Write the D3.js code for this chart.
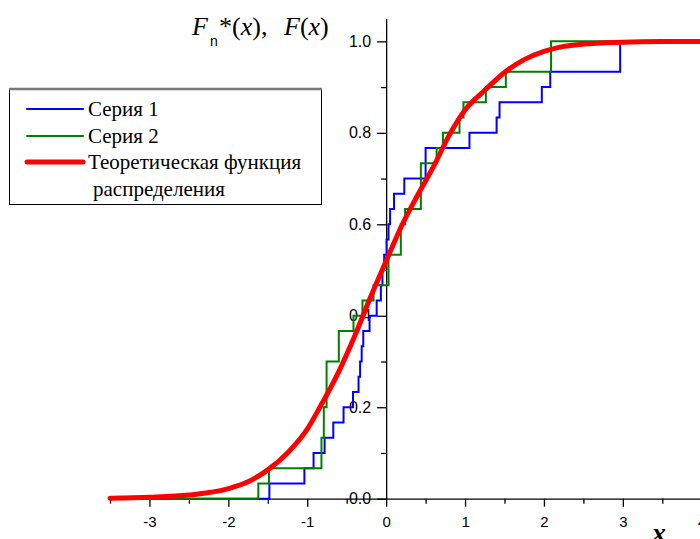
<!DOCTYPE html>
<html>
<head>
<meta charset="utf-8">
<script src="https://cdnjs.cloudflare.com/ajax/libs/d3/7.8.5/d3.min.js"></script>
<style>
  body { margin: 0; background: #fff; }
  svg { display: block; }
</style>
</head>
<body>
<svg width="700" height="539"></svg>
<script>
// samples read from the steps (n = 30)
const series1 = [-1.48, -1.036, -0.92, -0.78, -0.67, -0.54, -0.42, -0.35, -0.33, -0.31,
  -0.29, -0.21, -0.12, -0.067, -0.047, -0.025, 0.005, 0.03, 0.05, 0.10,
  0.23, 0.50, 0.50, 1.056, 1.40, 1.437, 1.973, 2.08, 2.966, 2.966]
const series2 = [-1.62, -1.485, -0.82, -0.82, -0.79, -0.79, -0.755, -0.755, -0.755, -0.60,
  -0.60, -0.414, -0.30, -0.16, 0.03, 0.03, 0.186, 0.186, 0.24, 0.44,
  0.44, 0.44, 0.64, 0.72, 0.93, 0.98, 1.264, 1.517, 2.09, 2.09]
// theoretical curve
const theoX = [-3.5, -3.0, -2.5, -2.0, -1.75, -1.5, -1.25, -1.0, -0.84, -0.6, -0.4, -0.2, 0.0,
  0.2, 0.4, 0.6, 0.8, 1.0, 1.25, 1.5, 1.75, 2.0, 2.25, 2.5, 3.0, 3.5, 4.5]
const theoF = [0.001, 0.003, 0.008, 0.022, 0.037, 0.063, 0.100, 0.152, 0.200, 0.278, 0.355, 0.440, 0.520,
  0.598, 0.664, 0.726, 0.795, 0.850, 0.893, 0.932, 0.960, 0.978, 0.989, 0.994, 0.998, 0.9995, 1.0]
const xMajor = [-3, -2, -1, 0, 1, 2, 3, 4]
const xMinor = [-3.5, -2.5, -1.5, -0.5, 0.5, 1.5, 2.5, 3.5]
const yMajor = [0, 0.2, 0.4, 0.6, 0.8, 1.0]
const yMinor = [0.1, 0.3, 0.5, 0.7, 0.9]
const legendNames = ['Серия 1', 'Серия 2', 'Теоретическая функция']

const svg = d3.select('svg')
const x = d3.scaleLinear().domain([-3.5, 4.5]).range([110, 741.2])
const y = d3.scaleLinear().domain([0, 1.05]).range([498.7, 18.5])
const x0 = x(0)
const y0 = y(0)

svg.append('rect').attr('width', 700).attr('height', 539).attr('fill', '#fff')

// axes
const xAxis = svg.append('g').attr('transform', `translate(0,${y0})`)
xAxis.call(d3.axisBottom(x).tickValues(xMajor).tickSize(8).tickSizeOuter(0).tickPadding(10)
  .tickFormat(d => String(d)))
xAxis.call(g => g.append('g').call(d3.axisBottom(x).tickValues(xMinor).tickSize(5).tickSizeOuter(0).tickFormat(''))
  .select('.domain').remove())

const yAxis = svg.append('g').attr('transform', `translate(${x0},0)`)
yAxis.call(d3.axisLeft(y).tickValues(yMajor).tickSize(9).tickSizeOuter(0).tickPadding(6)
  .tickFormat(d => d.toFixed(1)))
yAxis.call(g => g.append('g').call(d3.axisLeft(y).tickValues(yMinor).tickSize(5).tickSizeOuter(0).tickFormat(''))
  .select('.domain').remove())

svg.selectAll('.domain, .tick line').attr('stroke', '#000').attr('stroke-width', 1.3)
xAxis.selectAll('text').attr('font-family', 'Liberation Sans, Arial, sans-serif').attr('font-size', 15).attr('fill', '#000')
yAxis.selectAll('text').attr('font-family', 'Liberation Sans, Arial, sans-serif').attr('font-size', 16).attr('fill', '#000')

// empirical distribution functions
function ecdf(sample) {
  const s = sample.slice().sort(d3.ascending)
  const pts = [[x.domain()[0], 0]]
  s.forEach((v, i) => pts.push([v, (i + 1) / s.length]))
  pts.push([x.domain()[1], 1])
  return pts
}
const stepLine = d3.line().x(d => x(d[0])).y(d => y(d[1])).curve(d3.curveStepAfter)

svg.append('path').attr('d', stepLine(ecdf(series1)))
  .attr('fill', 'none').attr('stroke', '#0000ff').attr('stroke-width', 2)
svg.append('path').attr('d', stepLine(ecdf(series2)))
  .attr('fill', 'none').attr('stroke', '#008000').attr('stroke-width', 2)

const theoLine = d3.line().x(d => x(d[0])).y(d => y(d[1])).curve(d3.curveMonotoneX)
svg.append('path').attr('d', theoLine(theoX.map((v, i) => [v, theoF[i]])))
  .attr('fill', 'none').attr('stroke', '#ff0000').attr('stroke-width', 5)
  .attr('stroke-linecap', 'round')

// axis titles
const yTitle = svg.append('g').attr('font-family', 'Liberation Serif, Times New Roman, serif')
  .attr('font-size', 26).attr('fill', '#000')
yTitle.append('text').attr('x', 192).attr('y', 35).attr('font-style', 'italic').text('F')
yTitle.append('text').attr('x', 210).attr('y', 46).attr('font-family', 'Liberation Sans, Arial, sans-serif')
  .attr('font-size', 14).text('n')
const t1 = yTitle.append('text').attr('x', 219).attr('y', 35)
t1.append('tspan').text('*(')
t1.append('tspan').attr('font-style', 'italic').text('x')
t1.append('tspan').text('),')
const t2 = yTitle.append('text').attr('x', 284).attr('y', 35)
t2.append('tspan').attr('font-style', 'italic').text('F')
t2.append('tspan').text('(')
t2.append('tspan').attr('font-style', 'italic').text('x')
t2.append('tspan').text(')')

svg.append('text').attr('x', 652).attr('y', 542)
  .attr('font-family', 'Liberation Serif, Times New Roman, serif').attr('font-size', 28)
  .attr('font-style', 'italic').attr('font-weight', 'bold').text('x')

// legend
const legend = svg.append('g')
legend.append('rect').attr('x', 9.5).attr('y', 89.5).attr('width', 312).attr('height', 115)
  .attr('fill', '#fff').attr('stroke', '#000').attr('stroke-width', 1)
legend.append('line').attr('x1', 9).attr('x2', 322).attr('y1', 89).attr('y2', 89)
  .attr('stroke', '#777').attr('stroke-width', 2.5)
const legColors = ['#0000ff', '#008000', '#ff0000']
const legWidths = [2, 2, 5]
const legY = [109, 136, 162]
legendNames.forEach((name, i) => {
  legend.append('line').attr('x1', 27).attr('x2', 83).attr('y1', legY[i]).attr('y2', legY[i])
    .attr('stroke', legColors[i]).attr('stroke-width', legWidths[i]).attr('stroke-linecap', 'round')
  legend.append('text').attr('x', 88).attr('y', legY[i] + 7)
    .attr('font-family', 'Liberation Serif, Times New Roman, serif').attr('font-size', 21)
    .text(name)
})
legend.append('text').attr('x', 93).attr('y', 196)
  .attr('font-family', 'Liberation Serif, Times New Roman, serif').attr('font-size', 21)
  .text('распределения')
</script>
</body>
</html>
